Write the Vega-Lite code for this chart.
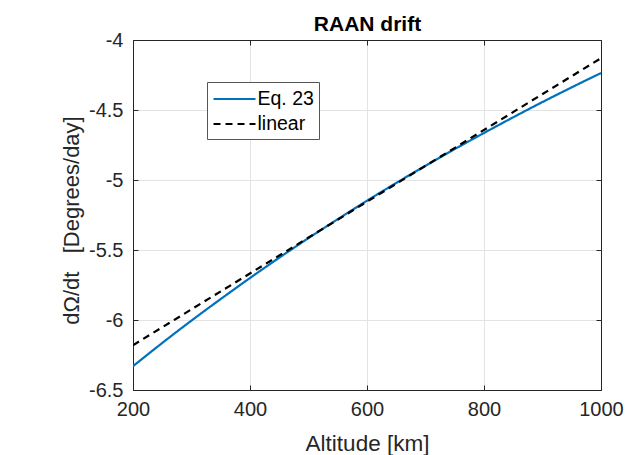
{
  "$schema": "https://vega.github.io/schema/vega-lite/v6.json",
  "width": 468,
  "height": 350,
  "autosize": {"type": "none"},
  "padding": {"left": 133, "top": 40, "right": 25, "bottom": 65},
  "background": "white",
  "config": {
    "font": "Liberation Sans",
    "view": {"stroke": "#262626", "strokeWidth": 1},
    "legend": {
      "orient": "none", "legendX": 74, "legendY": 42, "title": null,
      "symbolType": "M-2,0H2", "symbolSize": 441, "symbolOffset": 10.5, "labelOffset": 11,
      "labelFontSize": 19.5, "labelFont": "Liberation Sans", "labelColor": "#000000",
      "padding": 5, "rowPadding": 3, "strokeColor": "#555555", "fillColor": "white",
      "symbolStrokeWidth": 2.2
    }
  },
  "data": {"values": [
    {"series": "Eq. 23", "alt": 200, "rate": -6.330},
    {"series": "Eq. 23", "alt": 250, "rate": -6.164},
    {"series": "Eq. 23", "alt": 300, "rate": -6.004},
    {"series": "Eq. 23", "alt": 350, "rate": -5.850},
    {"series": "Eq. 23", "alt": 400, "rate": -5.700},
    {"series": "Eq. 23", "alt": 450, "rate": -5.555},
    {"series": "Eq. 23", "alt": 500, "rate": -5.415},
    {"series": "Eq. 23", "alt": 550, "rate": -5.280},
    {"series": "Eq. 23", "alt": 600, "rate": -5.148},
    {"series": "Eq. 23", "alt": 650, "rate": -5.021},
    {"series": "Eq. 23", "alt": 700, "rate": -4.898},
    {"series": "Eq. 23", "alt": 750, "rate": -4.779},
    {"series": "Eq. 23", "alt": 800, "rate": -4.664},
    {"series": "Eq. 23", "alt": 850, "rate": -4.552},
    {"series": "Eq. 23", "alt": 900, "rate": -4.443},
    {"series": "Eq. 23", "alt": 950, "rate": -4.338},
    {"series": "Eq. 23", "alt": 1000, "rate": -4.236},
    {"series": "linear", "alt": 200, "rate": -6.180},
    {"series": "linear", "alt": 1000, "rate": -4.130}
  ]},
  "resolve": {"axis": {"x": "independent", "y": "independent"}},
  "layer": [
    {
      "transform": [{"filter": "datum.series === 'Eq. 23'"}],
      "mark": {"type": "line", "strokeWidth": 2.2, "interpolate": "monotone", "clip": true},
      "encoding": {
        "x": {"field": "alt", "type": "quantitative",
          "scale": {"domain": [200, 1000], "nice": false, "zero": false},
          "axis": {"orient": "bottom", "values": [200, 400, 600, 800, 1000], "title": "Altitude [km]",
            "titleFont": "Liberation Sans", "titleFontSize": 22.5, "titleFontWeight": "normal", "titleColor": "#262626",
            "titleBaseline": "alphabetic", "titleY": 60,
            "labelFont": "Liberation Sans", "labelFontSize": 20, "labelColor": "#262626", "labelPadding": 14,
            "labelFlush": false, "labelOverlap": false, "labelExpr": "'' + datum.value",
            "tickSize": -5, "tickColor": "#262626", "domainColor": "#262626",
            "grid": true, "gridColor": "#e3e3e3"}},
        "y": {"field": "rate", "type": "quantitative",
          "scale": {"domain": [-6.5, -4], "nice": false, "zero": false},
          "axis": {"orient": "left", "values": [-6.5, -6, -5.5, -5, -4.5, -4], "title": "dΩ/dt\u00a0\u00a0\u00a0[Degrees/day]",
            "titleFont": "Liberation Sans", "titleFontSize": 22, "titleFontWeight": "normal", "titleColor": "#262626",
            "titleBaseline": "alphabetic", "titleX": -55, "titleY": 180, "titleAngle": 270,
            "labelFont": "Liberation Sans", "labelFontSize": 20, "labelColor": "#262626", "labelPadding": 15,
            "labelFlush": false, "labelOverlap": false, "labelExpr": "'' + datum.value",
            "tickSize": -5, "tickColor": "#262626", "domainColor": "#262626",
            "grid": true, "gridColor": "#e3e3e3"}},
        "stroke": {"field": "series", "type": "nominal",
          "scale": {"domain": ["Eq. 23", "linear"], "range": ["#0072BD", "#000000"]}},
        "strokeDash": {"field": "series", "type": "nominal",
          "scale": {"domain": ["Eq. 23", "linear"], "range": [[1, 0], [7, 5]]}}
      }
    },
    {
      "transform": [{"filter": "datum.series === 'linear'"}],
      "mark": {"type": "line", "strokeWidth": 2.2, "clip": true},
      "encoding": {
        "x": {"field": "alt", "type": "quantitative",
          "axis": {"orient": "top", "values": [200, 400, 600, 800, 1000], "title": "RAAN drift", "labels": false,
            "titleFont": "Liberation Sans", "titleFontSize": 21, "titleFontWeight": "bold", "titleColor": "#000000",
            "titleBaseline": "alphabetic", "titleY": -10, "titleAnchor": "middle",
            "tickSize": -5, "tickColor": "#262626", "domainColor": "#262626", "grid": false}},
        "y": {"field": "rate", "type": "quantitative",
          "axis": {"orient": "right", "values": [-6.5, -6, -5.5, -5, -4.5, -4], "title": null, "labels": false,
            "tickSize": -5, "tickColor": "#262626", "domainColor": "#262626", "grid": false}},
        "stroke": {"field": "series", "type": "nominal"},
        "strokeDash": {"field": "series", "type": "nominal"}
      }
    }
  ]
}
